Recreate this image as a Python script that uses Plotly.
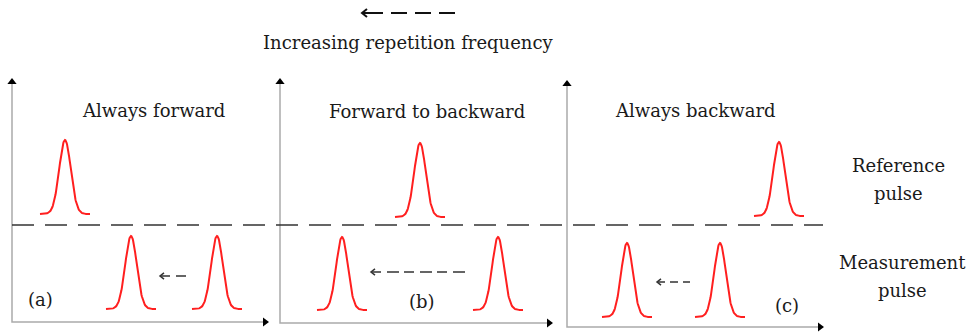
import numpy as np
import plotly.graph_objects as go

W, H = 969, 334

# ---- schematic data (figure units) ----
panel_titles = ["Always forward", "Forward to backward", "Always backward"]
panel_labels = ["(a)", "(b)", "(c)"]
panel_title_x = [153, 427, 695]
panel_title_y = [110, 111, 110]
panel_label_x = [40, 422, 787]
panel_label_y = [299, 301, 305]

axis_x = [12, 280, 567]          # vertical axis positions
axis_top = [78, 78, 80]
axis_bottom = [322, 323, 327]
axis_right = [269, 553, 824]

ref_centers = [65, 420, 779]
ref_peak = [140, 143, 142]
ref_base = [214, 217, 216]

meas_centers = [[131, 217], [342, 498], [627, 720]]
meas_peak = [236, 237, 243]
meas_base = [309, 310, 317]

# shift arrows: tip x, tail x, y, dash pattern
shift_tip = [160, 371, 657]
shift_tail = [187, 465, 690]
shift_y = [276, 272, 282]
shift_dash = ["10px,6px", "10px,6px,12px,5px", "8px,5px"]

divider_y = 225
divider_x = [12, 823]

top_arrow_tip, top_arrow_tail, top_arrow_y = 362, 456, 13
top_text = "Increasing repetition frequency"
right_label_lines = ["Reference", "pulse", "Measurement", "pulse"]
right_label_x = [898, 898, 902, 902]
right_label_y = [165, 193, 262, 290]

pulse_halfspan = 25
pulse_sigma = 5.8

FONT = "DejaVu Serif"
FS = 18
RED = "#ff1f1f"
AX = "#aaaaaa"

fig = go.Figure()


def pulse(c, peak, base):
    x = np.linspace(c - pulse_halfspan, c + pulse_halfspan, 121)
    y = base - (base - peak) * np.exp(-((x - c) ** 2) / (2 * pulse_sigma ** 2))
    fig.add_trace(go.Scatter(x=x, y=y, mode="lines",
                             line=dict(color=RED, width=2), hoverinfo="skip"))


def chevron(tip, y, size=4.5, width=1.5, color="#333"):
    fig.add_trace(go.Scatter(x=[tip + size, tip, tip + size],
                             y=[y - size * 0.8, y, y + size * 0.8], mode="lines",
                             line=dict(color=color, width=width), hoverinfo="skip"))


# axes
for i in range(3):
    fig.add_trace(go.Scatter(x=[axis_x[i], axis_x[i], axis_right[i] - 6],
                             y=[axis_top[i] + 6, axis_bottom[i], axis_bottom[i]],
                             mode="lines", line=dict(color=AX, width=1.5),
                             hoverinfo="skip"))
    fig.add_trace(go.Scatter(x=[axis_x[i]], y=[axis_top[i] + 4], mode="markers",
                             marker=dict(symbol="triangle-up", size=8, color="black"),
                             hoverinfo="skip"))
    fig.add_trace(go.Scatter(x=[axis_right[i] - 4], y=[axis_bottom[i]], mode="markers",
                             marker=dict(symbol="triangle-right", size=8, color="black"),
                             hoverinfo="skip"))

# divider
fig.add_trace(go.Scatter(x=divider_x, y=[divider_y, divider_y], mode="lines",
                         line=dict(color="#333333", width=1.6, dash="22px,11px"),
                         hoverinfo="skip"))

# pulses
for i in range(3):
    pulse(ref_centers[i], ref_peak[i], ref_base[i])
    for c in meas_centers[i]:
        pulse(c, meas_peak[i], meas_base[i])

# shift arrows
for i in range(3):
    fig.add_trace(go.Scatter(x=[shift_tip[i], shift_tail[i]], y=[shift_y[i]] * 2,
                             mode="lines",
                             line=dict(color="#333333", width=1.5, dash=shift_dash[i]),
                             hoverinfo="skip"))
    chevron(shift_tip[i], shift_y[i], size=4)

# top arrow
fig.add_trace(go.Scatter(x=[top_arrow_tip, top_arrow_tail], y=[top_arrow_y] * 2,
                         mode="lines",
                         line=dict(color="#111111", width=2,
                                   dash="21px,8px,16px,8px,16px,8px,16px,40px"),
                         hoverinfo="skip"))
chevron(top_arrow_tip, top_arrow_y, size=5, width=2, color="#111111")

annotations = []


def label(x, y, text):
    annotations.append(dict(x=x, y=y, text=text, showarrow=False,
                            xanchor="center", yanchor="middle",
                            font=dict(family=FONT, size=FS, color="#1a1a1a")))


for i in range(3):
    label(panel_title_x[i], panel_title_y[i], panel_titles[i])
    label(panel_label_x[i], panel_label_y[i], panel_labels[i])
label(408, 42, top_text)
for i in range(len(right_label_lines)):
    label(right_label_x[i], right_label_y[i], right_label_lines[i])

fig.update_layout(
    width=W, height=H, margin=dict(l=0, r=0, t=0, b=0),
    font=dict(family=FONT),
    paper_bgcolor="white", plot_bgcolor="white", showlegend=False,
    xaxis=dict(range=[0, W], visible=False, fixedrange=True),
    yaxis=dict(range=[H, 0], visible=False, fixedrange=True),
    annotations=annotations,
)

fig.write_html("out.html", config={"displayModeBar": False})
